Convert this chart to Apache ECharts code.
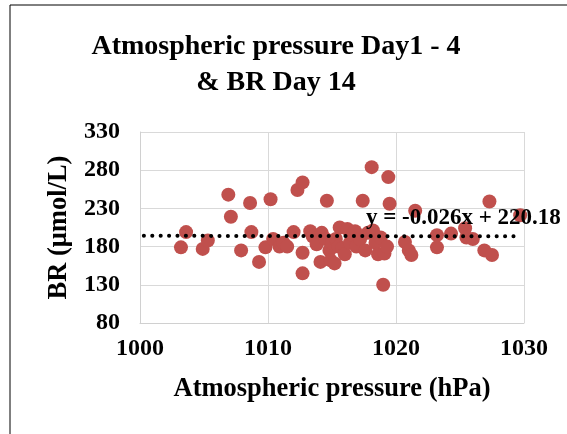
<!DOCTYPE html>
<html><head><meta charset="utf-8">
<script src="https://cdn.jsdelivr.net/npm/echarts@6/dist/echarts.min.js"></script>
<style>html,body{margin:0;padding:0;background:#fff}#c{width:567px;height:434px}</style>
</head><body><div id="c"></div>
<script>
const pressure = [1003.2,1003.6,1004.9,1005.3,1006.9,1007.1,1007.9,1008.6,1008.7,1009.3,1009.8,1010.2,1010.4,1010.9,1011.2,1011.5,1012.0,1012.3,1012.7,1012.7,1012.7,1013.3,1013.5,1013.8,1014.1,1014.2,1014.5,1014.6,1014.8,1014.9,1015.0,1015.2,1015.3,1015.5,1015.6,1015.8,1016.0,1016.2,1016.4,1016.6,1016.8,1016.9,1017.2,1017.4,1017.6,1017.8,1018.1,1018.2,1018.4,1018.6,1018.8,1019.0,1019.1,1019.3,1019.4,1019.5,1020.7,1021.0,1021.2,1021.5,1023.2,1023.2,1024.3,1025.4,1025.5,1026.0,1026.9,1027.3,1027.5,1029.7];
const br = [179,199,177,188,248,219,175,237,199,160,179,242,190,180,185,180,199,254,264,172,145,200,193,183,160,198,190,240,175,162,185,158,190,180,205,178,170,203,185,195,200,180,190,240,175,198,284,201,185,170,192,130,171,180,271,236,186,175,169,227,195,179,197,204,192,190,175,239,169,221];
const slope = -0.026, intercept = 220.18;
const trendX = [1000.3, 1029.8];
const trend = trendX.map(x => [x, slope * x + intercept]);
const equationText = 'y = -0.026x + 220.18';
const serif = '"Liberation Serif", "Times New Roman", serif';
const chart = echarts.init(document.getElementById('c'));
chart.setOption({
  animation: false,
  backgroundColor: '#fff',
  title: {
    text: 'Atmospheric pressure Day1 - 4\n& BR Day 14',
    left: 271, top: 24, textAlign: 'center',
    textStyle: {fontFamily: serif, fontWeight: 'bold', fontSize: 28, color: '#000', lineHeight: 36}
  },
  graphic: [
    {type: 'rect', shape: {x: 10, y: 5, width: 700, height: 600}, style: {fill: 'none', stroke: '#000', lineWidth: 1}, silent: true, z: -1},
    {type: 'text', left: 366, top: 207, style: {text: equationText, font: 'bold 23px ' + serif, fill: '#000'}, z: 10}
  ],
  grid: {left: 140, right: 43, top: 132, bottom: 111},
  xAxis: {
    type: 'value', min: 1000, max: 1030, interval: 10,
    name: 'Atmospheric pressure (hPa)', nameLocation: 'middle', nameGap: 53,
    nameTextStyle: {fontFamily: serif, fontWeight: 'bold', fontSize: 26.5, color: '#000'},
    axisLine: {show: true, lineStyle: {color: '#d0d0d0', width: 1}},
    axisTick: {show: false},
    axisLabel: {fontFamily: serif, fontWeight: 'bold', fontSize: 24, color: '#000', margin: 14, formatter: v => String(v)},
    splitLine: {show: true, lineStyle: {color: '#d9d9d9', width: 1}}
  },
  yAxis: {
    type: 'value', min: 80, max: 330, interval: 50,
    name: 'BR (μmol/L)', nameLocation: 'middle', nameGap: 65, nameRotate: 90,
    nameTextStyle: {fontFamily: serif, fontWeight: 'bold', fontSize: 26.5, color: '#000'},
    axisLine: {show: true, lineStyle: {color: '#d0d0d0', width: 1}},
    axisTick: {show: false},
    axisLabel: {fontFamily: serif, fontWeight: 'bold', fontSize: 24, color: '#000', margin: 20},
    splitLine: {show: true, lineStyle: {color: '#d9d9d9', width: 1}}
  },
  series: [
    {
      type: 'scatter', symbolSize: 14,
      itemStyle: {color: '#c0504d', opacity: 1},
      data: pressure.map((x, i) => [x, br[i]]), z: 2
    },
    {
      type: 'line', data: trend, symbol: 'none', z: 3,
      lineStyle: {color: '#000', width: 4, type: [0.1, 8.3], cap: 'round'}
    }
  ]
});
</script></body></html>
